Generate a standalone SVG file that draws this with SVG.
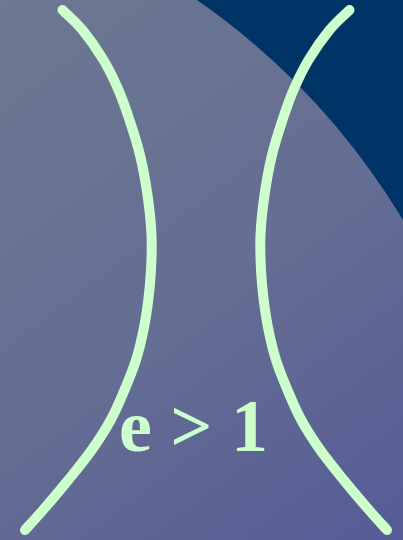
<svg xmlns="http://www.w3.org/2000/svg" width="403" height="540" viewBox="0 0 403 540">
  <defs>
    <linearGradient id="bg" gradientUnits="userSpaceOnUse" x1="0" y1="0" x2="403" y2="540">
      <stop offset="0" stop-color="#6d7892"/>
      <stop offset="0.55" stop-color="#646d93"/>
      <stop offset="1" stop-color="#565b96"/>
    </linearGradient>
  </defs>
  <style>
    .curve { fill: none; stroke: #ccffcc; stroke-width: 10; stroke-linecap: round; stroke-linejoin: round; }
    .label { font-family: "Liberation Serif", "Times New Roman", serif; font-weight: bold; font-size: 74px; fill: #ccffcc; }
  </style>
  <g id="background">
    <rect x="0" y="0" width="403" height="540" fill="url(#bg)"/>
    <path d="M 197 0 A 722 722 0 0 1 403 220 L 403 0 Z" fill="#003366"/>
  </g>
  <g id="connectors">
    <path id="left-branch" class="curve" d="M 62.5 10 C 65.83 13.33, 75.67 21.67, 82.5 30 C 89.33 38.33, 97.5 50, 103.5 60 C 109.5 70, 114.17 80, 118.5 90 C 122.83 100, 125.92 109.17, 129.5 120 C 133.08 130.83, 137 142.5, 140 155 C 143 167.5, 145.58 181.67, 147.5 195 C 149.42 208.33, 150.92 222.5, 151.5 235 C 152.08 247.5, 151.53 259.17, 151 270 C 150.47 280.83, 149.55 290, 148.3 300 C 147.05 310, 145.55 320, 143.5 330 C 141.45 340, 139.17 350, 136 360 C 132.83 370, 128.72 380, 124.5 390 C 120.28 400, 116.17 410, 110.7 420 C 105.23 430, 98.77 440, 91.7 450 C 84.63 460, 76.42 470, 68.3 480 C 60.18 490, 50.22 501.67, 43 510 C 35.78 518.33, 28 526.67, 25 530"/>
    <path id="right-branch" class="curve" d="M 349.5 10 C 346.17 13.33, 336.33 21.67, 329.5 30 C 322.67 38.33, 314.5 50, 308.5 60 C 302.5 70, 297.83 80, 293.5 90 C 289.17 100, 286.08 109.17, 282.5 120 C 278.92 130.83, 275 142.5, 272 155 C 269 167.5, 266.42 181.67, 264.5 195 C 262.58 208.33, 261.08 222.5, 260.5 235 C 259.92 247.5, 260.47 259.17, 261 270 C 261.53 280.83, 262.45 290, 263.7 300 C 264.95 310, 266.45 320, 268.5 330 C 270.55 340, 272.83 350, 276 360 C 279.17 370, 283.28 380, 287.5 390 C 291.72 400, 295.83 410, 301.3 420 C 306.77 430, 313.23 440, 320.3 450 C 327.37 460, 335.58 470, 343.7 480 C 351.82 490, 361.78 501.67, 369 510 C 376.22 518.33, 384 526.67, 387 530"/>
  </g>
  <g id="label">
    <text class="label" x="119" y="451">e &gt; 1</text>
  </g>
</svg>
